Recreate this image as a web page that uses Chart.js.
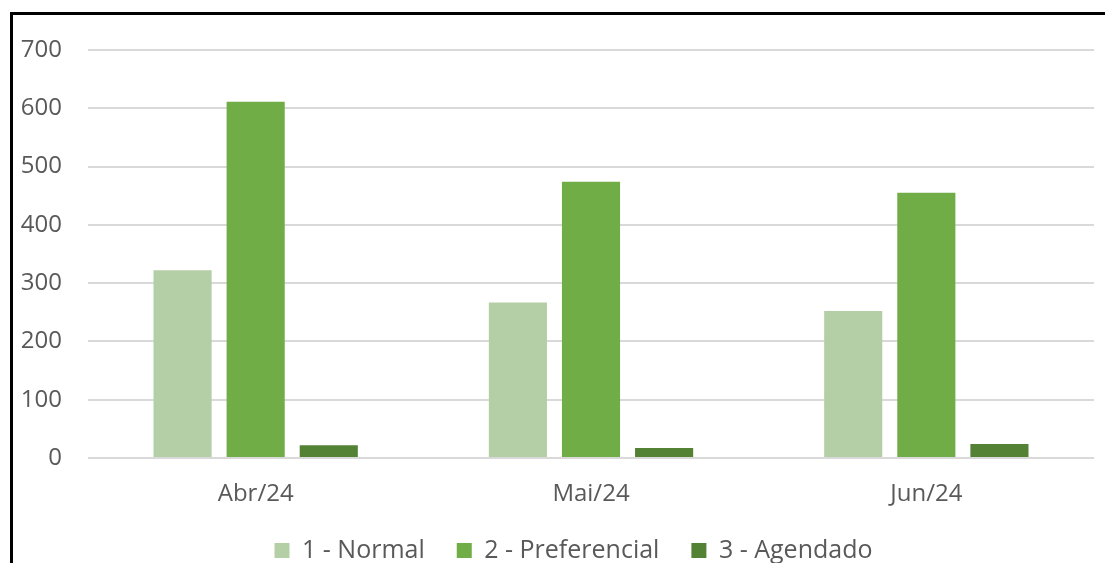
<!DOCTYPE html>
<html>
<head>
<meta charset="utf-8">
<script src="https://cdn.jsdelivr.net/npm/chart.js@4.4.1/dist/chart.umd.min.js"></script>
<style>
    html, body { margin: 0; padding: 0; background: #fff; overflow: hidden; }
    #frame {
        position: absolute;
        left: 10px;
        top: 12px;
        width: 1095px;
        height: 600px;
        border-left: 3px solid #000;
        border-top: 3px solid #000;
    }
    #box { position: absolute; left: 0; top: 0; width: 1092px; height: 558px; }
</style>
</head>
<body>
<div id="frame"><div id="box"><canvas id="myChart"></canvas></div></div>
<script>
const months = ["Abr/24", "Mai/24", "Jun/24"];
const normal = [322, 267, 252];
const preferencial = [611, 474, 455];
const agendado = [22, 17, 24];
const yTicks = [0, 100, 200, 300, 400, 500, 600, 700];

const textColor = "#595959";
const fontFamily = "'Open Sans', sans-serif";
let chart;

// nudge the legend row a little to the right of the canvas centre
const legendShift = {
    id: 'legendShift',
    afterLayout: function (c)
    {
        c.legend.left += 20;
        c.legend.right += 20;
    }
};

function InitializeChart()
{
    chart = new Chart(document.getElementById("myChart"), {
        type: 'bar',
        data: {
            labels: months,
            datasets: [
                { label: "1 - Normal", data: normal, backgroundColor: "#b4cea6" },
                { label: "2 - Preferencial", data: preferencial, backgroundColor: "#70ad47" },
                { label: "3 - Agendado", data: agendado, backgroundColor: "#548235" }
            ]
        },
        plugins: [legendShift],
        options: {
            responsive: true,
            maintainAspectRatio: false,
            animation: false,
            categoryPercentage: 0.654,
            barPercentage: 0.795,
            layout: {
                padding: { left: 0, right: 11, top: 35, bottom: 0 }
            },
            plugins: {
                tooltip: { enabled: false },
                legend: {
                    position: 'bottom',
                    labels: {
                        boxWidth: 15,
                        boxHeight: 15,
                        padding: 32,
                        color: textColor,
                        font: { family: fontFamily, size: 25 }
                    }
                }
            },
            scales: {
                x: {
                    afterFit: function (scale)
                    {
                        scale.height = 48;
                    },
                    grid: { display: false, drawTicks: false },
                    border: { display: false },
                    ticks: {
                        padding: 24,
                        color: textColor,
                        font: { family: fontFamily, size: 24, lineHeight: 1 }
                    }
                },
                y: {
                    min: 0,
                    max: 700,
                    afterFit: function (scale)
                    {
                        // fixed axis width, and no extra room for the end labels
                        scale.width = 75;
                        scale.paddingTop = 0;
                        scale.paddingBottom = 0;
                    },
                    afterBuildTicks: function (scale)
                    {
                        scale.ticks = yTicks.map(v => ({ value: v }));
                    },
                    grid: {
                        color: "#d9d9d9",
                        lineWidth: 2,
                        drawTicks: false
                    },
                    border: { display: false },
                    ticks: {
                        padding: 26,
                        color: textColor,
                        font: { family: fontFamily, size: 24 }
                    }
                }
            }
        }
    });
}

InitializeChart();
</script>
</body>
</html>
